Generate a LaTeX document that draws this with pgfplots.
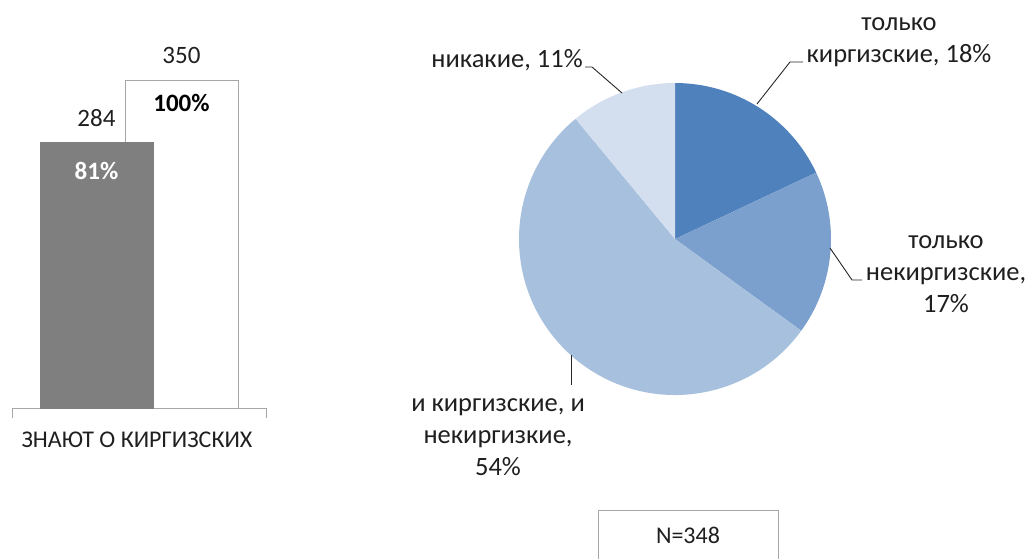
\documentclass[border=0pt]{standalone}
\usepackage{fontspec}
\setmainfont{Carlito}
\usepackage{pgfplots}
\pgfplotsset{compat=1.18}
\definecolor{sA}{HTML}{4F81BD}
\definecolor{sB}{HTML}{7BA0CD}
\definecolor{sC}{HTML}{A7C0DE}
\definecolor{sD}{HTML}{D3DFEE}
\definecolor{barGray}{HTML}{7F7F7F}
\definecolor{lineGray}{HTML}{A6A6A6}
\definecolor{txt}{HTML}{1F1F1F}
\begin{document}
\begin{tikzpicture}[x=1pt,y=1pt,font=\fontsize{25}{32}\selectfont,text=txt,
  pielab/.style={font=\fontsize{26.5}{32}\selectfont, align=center}]
\path[use as bounding box] (0,0) rectangle (1030,-558);
% ---------------- bar chart ----------------
\begin{axis}[at={(12pt,-408pt)}, anchor=south west, scale only axis,
  width=254pt, height=356.1pt, xmin=12, xmax=266, ymin=0, ymax=380,
  axis y line=none, axis x line*=bottom, axis line style={-,draw=lineGray},
  xtick={12,266}, xticklabels={}, tick align=outside, major tick length=10pt,
  xtick style={draw=lineGray}, clip=false]
\addplot[ybar, bar width=113, bar shift=0pt, fill=white, draw=lineGray] coordinates {(181.5,350)};
\addplot[ybar, bar width=113, bar shift=0pt, fill=barGray, draw=barGray] coordinates {(96.5,284)};
\node at (axis cs:96.5,284) [yshift=24pt] {284};
\node at (axis cs:181.5,350) [yshift=25pt] {350};
\node at (axis cs:96.5,284) [yshift=-29pt, text=white] {\bfseries 81\%};
\node at (axis cs:181.5,350) [yshift=-23pt, text=black] {\bfseries 100\%};
\end{axis}
\node[font=\fontsize{24}{32}\selectfont] at (137,-440) {ЗНАЮТ О КИРГИЗСКИХ};
% ---------------- pie chart ----------------
\def\pA{18}\def\pB{17}\def\pC{54}\def\pD{11}
\pgfmathsetmacro\aA{90}
\pgfmathsetmacro\aB{\aA-3.6*\pA}
\pgfmathsetmacro\aC{\aB-3.6*\pB}
\pgfmathsetmacro\aD{\aC-3.6*\pC}
\pgfmathsetmacro\aE{\aD-3.6*\pD}
\begin{axis}[at={(519pt,-395pt)}, anchor=south west, scale only axis,
  width=312pt, height=312pt, xmin=-156, xmax=156, ymin=-156, ymax=156,
  hide axis, clip=false]
\fill[sA] (axis cs:0,0) -- (axis cs:{156*cos(\aA)},{156*sin(\aA)}) arc[start angle=\aA, end angle=\aB, radius=156pt] -- cycle;
\fill[sB] (axis cs:0,0) -- (axis cs:{156*cos(\aB)},{156*sin(\aB)}) arc[start angle=\aB, end angle=\aC, radius=156pt] -- cycle;
\fill[sC] (axis cs:0,0) -- (axis cs:{156*cos(\aC)},{156*sin(\aC)}) arc[start angle=\aC, end angle=\aD, radius=156pt] -- cycle;
\fill[sD] (axis cs:0,0) -- (axis cs:{156*cos(\aD)},{156*sin(\aD)}) arc[start angle=\aD, end angle=\aE, radius=156pt] -- cycle;
\end{axis}
% labels and leaders
\draw[black!85, line width=0.9pt] (757,-104) -- (790,-62) -- (803,-62);
\draw[black!85, line width=0.9pt] (585,-67) -- (592,-67) -- (622,-93);
\draw[black!85, line width=0.9pt] (830,-248) -- (852,-280) -- (862,-280);
\draw[black!85, line width=0.9pt] (571,-355) -- (571,-385);
\node[pielab] at (899,-42) {только\\киргизские, 18\%};
\node[pielab] at (507,-60) {никакие, 11\%};
\node[pielab] at (946,-274) {только\\некиргизские,\\17\%};
\node[pielab] at (498,-437) {и киргизские, и\\некиргизкие,\\54\%};
% N box
\draw[lineGray, line width=0.8pt] (598,-510) rectangle (778,-575);
\node[font=\fontsize{24}{32}\selectfont] at (688,-535) {N=348};
\end{tikzpicture}
\end{document}
